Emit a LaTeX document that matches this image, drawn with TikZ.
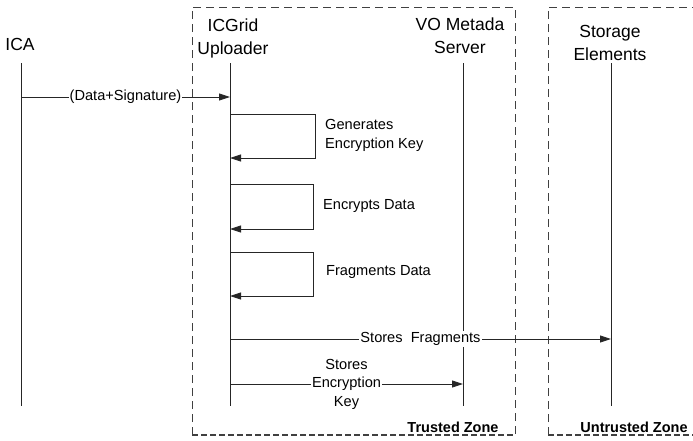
\documentclass[tikz,border=0pt]{standalone}
\usepackage{fontspec}
\setmainfont{Liberation Sans}
\usetikzlibrary{arrows.meta}
\begin{document}
\begin{tikzpicture}[x=1pt,y=-1pt,
  actor/.style={font=\fontsize{17.5}{23}\selectfont, align=center, inner sep=0pt, anchor=base},
  lifeline/.style={line width=0.9pt, draw=black!85},
  msg/.style={line width=0.9pt, draw=black!85, -{Triangle[length=11pt,width=7pt]}},
  msglabel/.style={font=\fontsize{14.6}{18.5}\selectfont, fill=white, inner sep=1pt, align=center},
  note/.style={font=\fontsize{14.6}{18.5}\selectfont, align=left, inner sep=0pt, anchor=base west},
  zone/.style={dash pattern=on 8pt off 5pt, line width=0.9pt, draw=black!75},
  zonebottom/.style={dash pattern=on 6pt off 3pt, line width=1.6pt, draw=black!75},
  zonelabel/.style={font=\bfseries\fontsize{14.5}{17}\selectfont, inner sep=0pt, anchor=base},
]
\useasboundingbox (0,0) rectangle (693,440);

% trusted and untrusted zones
\draw[zone] (192,435) -- (192,7) -- (515,7) -- (515,435);
\draw[zonebottom] (192,435) -- (515,435);
\draw[zone] (548,435) -- (548,7) -- (693,7);
\draw[zonebottom] (548,435) -- (693,435);
\node[zonelabel] (tz) at (453,432) {Trusted Zone};
\node[zonelabel] (uz) at (634,432) {Untrusted Zone};

% actors (base = baseline of the last line)
\node[actor] (ica) at (20,50) {ICA};
\node[actor] (up) at (233,54) {ICGrid\\Uploader};
\node[actor] (vo) at (460,53) {VO Metada\\Server};
\node[actor] (se) at (610,60) {Storage\\Elements};

% lifelines
\coordinate (icaT) at (21,63);  \coordinate (icaB) at (21,406);
\coordinate (upT) at (230,63);  \coordinate (upB) at (230,406);
\coordinate (voT) at (463,63);  \coordinate (voB) at (463,406);
\coordinate (seT) at (611,63);  \coordinate (seB) at (611,406);
\draw[lifeline] (icaT) -- (icaB);
\draw[lifeline] (upT) -- (upB);
\draw[lifeline] (voT) -- (voB);
\draw[lifeline] (seT) -- (seB);

% incoming data
\draw[msg] (icaT |- 0,97) -- node[msglabel] (m1) {(Data+Signature)} (upT |- 0,97);

% self calls of the uploader
\draw[msg] (upT |- 0,114) -| (315,158) -- (upT |- 0,158);
\node[note] (n1) at (325,148) {Generates\\Encryption Key};
\draw[msg] (upT |- 0,184) -| (313,229) -- (upT |- 0,229);
\node[note] (n2) at (323,209) {Encrypts Data};
\draw[msg] (upT |- 0,252) -| (313,296) -- (upT |- 0,296);
\node[note] (n3) at (326,275) {Fragments Data};

% storing
\draw[msg] (upT |- 0,339) -- node[msglabel] (m2) {Stores\ \ Fragments} (seT |- 0,339);
\draw[msg] (upT |- 0,384) -- node[msglabel] (m3) {Stores\\Encryption\\Key} (voT |- 0,384);
\end{tikzpicture}
\end{document}
